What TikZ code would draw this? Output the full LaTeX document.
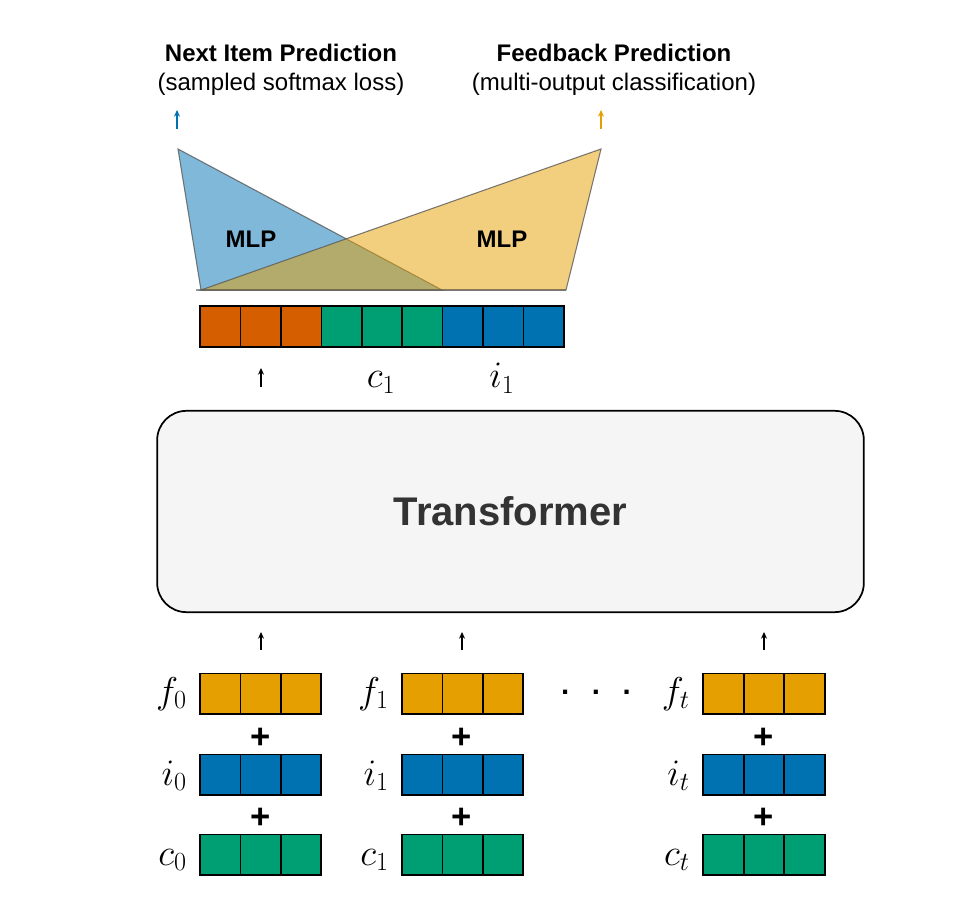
\documentclass[tikz,border=0pt]{standalone}
\usepackage{fix-cm}
\usepackage{fontspec}
\setmainfont{Liberation Sans}
\usetikzlibrary{arrows.meta}
\definecolor{okorange}{HTML}{E69F00}
\definecolor{okblue}{HTML}{0072B2}
\definecolor{okgreen}{HTML}{009E73}
\definecolor{okverm}{HTML}{D55E00}
\definecolor{trfill}{HTML}{F5F5F5}
\definecolor{trtext}{HTML}{333333}
\tikzset{
  cell/.style={draw=black, line width=1.2pt, minimum width=30.3pt, minimum height=30.6pt, inner sep=0pt, outer sep=0pt},
  mlab/.style={inner sep=0pt, font=\fontsize{28}{32}\selectfont},
  ttl/.style={inner sep=0pt, font=\fontsize{18}{22}\selectfont},
  mlp/.style={inner sep=0pt, font=\fontsize{18}{22}\selectfont\bfseries},
  plusnode/.style={inner sep=0pt, font=\fontsize{26}{30}\selectfont\bfseries},
  arr/.style={-{Stealth[length=5pt,width=4.5pt]}, line width=1pt},
  tri/.style={draw=black!65, line width=0.8pt, draw opacity=0.8, fill opacity=0.5},
}
\newcommand\vecrow[5]{% name, x-left, y-top, color, cell width
  \foreach \k in {0,1,2}
    \node[cell, fill=#4] (#1-\k) at ({#2+#5*\k+#5/2},{#3+20.3}) {};}
\begin{document}
\begin{tikzpicture}[x=0.75pt,y=-0.75pt]
\useasboundingbox (0,0) rectangle (964,912);

% titles
\node[ttl] (t1) at (281,53) {\bfseries Next Item Prediction};
\node[ttl] (t2) at (281,84) {(sampled softmax loss)};
\node[ttl] (t3) at (614,53) {\bfseries Feedback Prediction};
\node[ttl] (t4) at (614,84) {(multi-output classification)};

% coloured output arrows
\coordinate (ba0) at (177,129); \coordinate (ba1) at (177,110);
\coordinate (ya0) at (601,129); \coordinate (ya1) at (601,110);
\draw[arr, okblue] (ba0) -- (ba1);
\draw[arr, okorange] (ya0) -- (ya1);

% MLP triangles
\draw[draw=black!40, line width=0.8pt] (196,290) -- (566,290);
\path[tri, fill=okblue] (178,149) -- (201,290) -- (442,290) -- cycle;
\path[tri, fill=okorange] (601,149) -- (566,290) -- (201,290) -- cycle;
\node[mlp] (m1) at (251,239) {MLP};
\node[mlp] (m2) at (502,239) {MLP};

% output vector
\foreach \k/\c in {0/okverm,1/okverm,2/okverm,3/okgreen,4/okgreen,5/okgreen,6/okblue,7/okblue,8/okblue}
  \node[cell, fill=\c] (o-\k) at ({200+40.44*\k+20.22},326.5) {};

\coordinate (ta0) at (261,387); \coordinate (ta1) at (261,368);
\draw[arr] (ta0) -- (ta1);
\node[mlab, anchor=base] (lc) at (381,388) {$c_1$};
\node[mlab, anchor=base] (li) at (502,388) {$i_1$};

% transformer
\node[draw=black, line width=1.3pt, fill=trfill, rounded corners=22pt,
      minimum width=530pt, minimum height=151pt, inner sep=0pt,
      text=trtext, font=\fontsize{30}{36}\selectfont\bfseries] (tr) at (510.5,511.5) {Transformer};

% input arrows
\foreach \n/\x in {0/261,1/462,2/764}{
  \coordinate (ia\n0) at (\x,650); \coordinate (ia\n1) at (\x,632);
  \draw[arr] (ia\n0) -- (ia\n1);
}

% input vectors
\vecrow{f0}{200}{673.5}{okorange}{40.4}
\vecrow{i0}{200}{754.5}{okblue}{40.4}
\vecrow{c0}{200}{834.5}{okgreen}{40.4}
\vecrow{f1}{402}{673.5}{okorange}{40.4}
\vecrow{i1}{402}{754.5}{okblue}{40.4}
\vecrow{c1}{402}{834.5}{okgreen}{40.4}
\vecrow{ft}{703}{673.5}{okorange}{40.6}
\vecrow{it}{703}{754.5}{okblue}{40.6}
\vecrow{ct}{703}{834.5}{okgreen}{40.6}

% labels
\node[mlab, anchor=base east] (lf0) at (187,703) {$f_0$};
\node[mlab, anchor=base east] (li0) at (187,785) {$i_0$};
\node[mlab, anchor=base east] (lc0) at (187,865) {$c_0$};
\node[mlab, anchor=base east] (lf1) at (389,703) {$f_1$};
\node[mlab, anchor=base east] (li1) at (389,785) {$i_1$};
\node[mlab, anchor=base east] (lc1) at (389,865) {$c_1$};
\node[mlab, anchor=base east] (lft) at (690,703) {$f_t$};
\node[mlab, anchor=base east] (lit) at (690,785) {$i_t$};
\node[mlab, anchor=base east] (lct) at (690,865) {$c_t$};

% plus signs
\foreach \n/\x in {0/261,1/462,2/764}{
  \node[plusnode] (pa\n) at (\x,738) {+};
  \node[plusnode] (pb\n) at (\x,818) {+};
}

% dots
\node[inner sep=0pt, anchor=base, font=\fontsize{22}{26}\selectfont\bfseries] (dots) at (596,694) {.\hspace{17pt}.\hspace{17pt}.};
\end{tikzpicture}
\end{document}
